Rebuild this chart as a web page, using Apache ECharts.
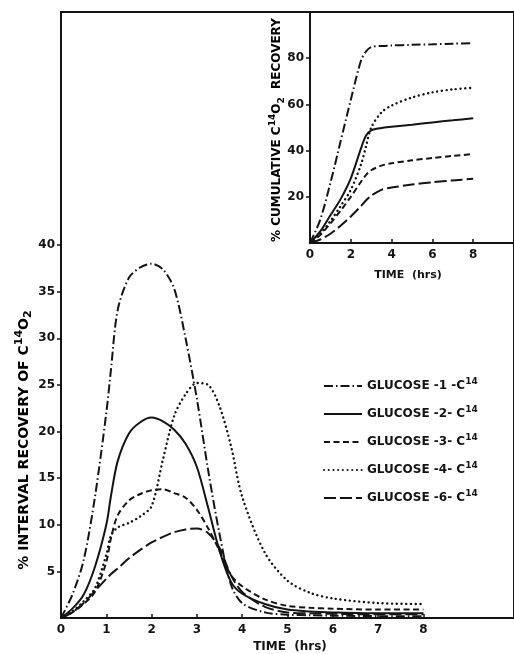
<!DOCTYPE html>
<html>
<head>
<meta charset="utf-8">
<script src="https://cdn.jsdelivr.net/npm/echarts@6/dist/echarts.min.js"></script>
<style>
  html, body { margin: 0; padding: 0; background: #fff; }
  #chart { width: 514px; height: 654px; }
</style>
</head>
<body>
<div id="chart"></div>
<script>
// series names (legend)
var names = ['GLUCOSE -1 -C14', 'GLUCOSE -2- C14', 'GLUCOSE -3- C14', 'GLUCOSE -4- C14', 'GLUCOSE -6- C14'];

// main chart: % interval recovery
var timeMain = [0, 0.25, 0.5, 0.75, 1, 1.1, 1.25, 1.5, 1.75, 2, 2.25, 2.5, 2.75, 3, 3.25, 3.5, 3.75, 4, 4.5, 5, 5.5, 6, 7, 8];
var interval1 = [0, 2.5, 6.2, 13, 22, 26.5, 33, 36.5, 37.6, 38, 37.4, 35.3, 30, 23.5, 15.8, 9, 3.6, 1.6, 0.6, 0.35, 0.3, 0.25, 0.2, 0.2];
var interval2 = [0, 1, 2.5, 5.5, 10, 13, 16.8, 19.8, 21, 21.5, 21.1, 20.2, 18.7, 16.2, 11.8, 7.2, 3.9, 2.6, 1.5, 0.9, 0.7, 0.6, 0.5, 0.5];
var interval3 = [0, 0.6, 1.5, 2.8, 6, 8.5, 11, 12.6, 13.3, 13.7, 13.8, 13.4, 12.9, 11.6, 9.6, 7.2, 4.6, 3.4, 2, 1.3, 1.1, 1, 0.9, 0.9];
var interval4 = [0, 0.7, 1.8, 3.2, 6.8, 8.8, 9.7, 10.2, 10.9, 12, 17, 21.7, 24, 25.2, 25, 22.7, 18.5, 13, 7, 4, 2.7, 2.1, 1.6, 1.5];
var interval6 = [0, 0.6, 1.6, 2.9, 4.2, 4.7, 5.3, 6.4, 7.3, 8.1, 8.7, 9.2, 9.5, 9.6, 9.1, 7.5, 4.6, 2.8, 1.2, 0.6, 0.5, 0.45, 0.4, 0.4];

// inset: % cumulative recovery
var timeInset = [0, 0.5, 1, 1.5, 2, 2.5, 2.75, 3, 3.5, 4, 5, 6, 7, 8];
var cumul1 = [0, 10, 26, 44, 62, 79, 83, 84.8, 85.3, 85.5, 85.8, 86, 86.3, 86.5];
var cumul2 = [0, 5, 12, 19, 28, 41, 46.5, 48.8, 49.8, 50.3, 51.2, 52.2, 53.1, 54];
var cumul3 = [0, 3.5, 8.5, 14, 20, 26.5, 29.5, 31.5, 33.5, 34.5, 35.8, 36.8, 37.7, 38.5];
var cumul4 = [0, 4, 9.5, 16, 23, 34, 42, 50, 56.5, 59.5, 63, 65.2, 66.5, 67.2];
var cumul6 = [0, 1.5, 4, 7.5, 11.5, 16, 18.5, 20.5, 23, 24, 25.3, 26.3, 27.1, 27.8];

// tick labels
var mainXLabels = [0, 1, 2, 3, 4, 5, 6, 7, 8];
var mainYLabels = [5, 10, 15, 20, 25, 30, 35, 40];
var insetXLabels = [0, 2, 4, 6, 8];
var insetYLabels = [20, 40, 60, 80];

var ink = '#141414';
var font = 'DejaVu Sans';
var dashes = [[9, 3, 1.5, 3], 'solid', [6, 3.5], [0.1, 4.6], [12, 4]];
var widths = [2, 2, 2, 2.4, 2];

function pairs(xs, ys) {
  return xs.map(function (x, i) { return [x, ys[i]]; });
}

function makeSeries(idx, xs, ys, i) {
  return {
    type: 'line',
    name: names[i],
    xAxisIndex: idx,
    yAxisIndex: idx,
    data: pairs(xs, ys),
    smooth: 0.3,
    symbol: 'none',
    lineStyle: { color: ink, width: widths[i], type: dashes[i], cap: i === 3 ? 'round' : 'butt' },
    itemStyle: { color: ink },
    z: 3
  };
}

var mainData = [interval1, interval2, interval3, interval4, interval6];
var insetData = [cumul1, cumul2, cumul3, cumul4, cumul6];
var series = [];
mainData.forEach(function (d, i) { series.push(makeSeries(0, timeMain, d, i)); });
insetData.forEach(function (d, i) { series.push(makeSeries(1, timeInset, d, i)); });

var labelStyle = { color: ink, fontFamily: font, fontWeight: 'bold', fontSize: 12 };
function richSet(size) {
  return {
    n: { fontFamily: font, fontWeight: 'bold', fontSize: size, color: ink, lineHeight: size + 6 },
    sup: { fontFamily: font, fontWeight: 'bold', fontSize: size - 3, color: ink, verticalAlign: 'top', lineHeight: size - 3 },
    sub: { fontFamily: font, fontWeight: 'bold', fontSize: size - 3, color: ink, verticalAlign: 'bottom', lineHeight: size - 3 }
  };
}

var chart = echarts.init(document.getElementById('chart'), null, { renderer: 'canvas' });
chart.setOption({
  animation: false,
  backgroundColor: '#fff',
  grid: [
    { left: 61, top: 12, width: 459, height: 606, show: true, borderColor: ink, borderWidth: 2, backgroundColor: 'transparent' },
    { left: 310, top: 12, width: 233, height: 231 }
  ],
  xAxis: [
    {
      gridIndex: 0, type: 'value', min: 0, max: 10, interval: 1,
      axisLine: { lineStyle: { color: ink, width: 2 } },
      axisTick: { inside: true, length: 4, lineStyle: { color: ink, width: 1.5 }, customValues: mainXLabels.slice(1) },
      axisLabel: Object.assign({ margin: 6, customValues: mainXLabels }, labelStyle),
      splitLine: { show: false }
    },
    {
      gridIndex: 1, type: 'value', min: 0, max: 10, interval: 2,
      axisLine: { lineStyle: { color: ink, width: 2 } },
      axisTick: { inside: true, length: 4, lineStyle: { color: ink, width: 1.5 }, customValues: insetXLabels.slice(1) },
      axisLabel: Object.assign({ margin: 6, customValues: insetXLabels }, labelStyle),
      splitLine: { show: false }
    }
  ],
  yAxis: [
    {
      gridIndex: 0, type: 'value', min: 0, max: 65, interval: 5,
      axisLine: { show: true, lineStyle: { color: ink, width: 2 } },
      axisTick: { show: true, length: 4, lineStyle: { color: ink, width: 1.5 }, customValues: mainYLabels },
      axisLabel: Object.assign({ margin: 6, customValues: mainYLabels }, labelStyle),
      splitLine: { show: false }
    },
    {
      gridIndex: 1, type: 'value', min: 0, max: 100, interval: 20,
      axisLine: { show: true, lineStyle: { color: ink, width: 2 } },
      axisTick: { show: true, length: 4, lineStyle: { color: ink, width: 1.5 }, customValues: insetYLabels },
      axisLabel: Object.assign({ margin: 6, customValues: insetYLabels }, labelStyle),
      splitLine: { show: false }
    }
  ],
  legend: {
    data: names,
    orient: 'vertical',
    left: 318,
    top: 372,
    itemWidth: 38,
    itemHeight: 10,
    itemGap: 13,
    selectedMode: false,
    itemStyle: { opacity: 0 },
    formatter: function (name) { return '{n|' + name.replace('C14', 'C') + '}{sup|14}'; },
    textStyle: { color: ink, rich: richSet(12) }
  },
  graphic: [
    {
      type: 'text', x: 24, y: 440, rotation: Math.PI / 2,
      style: {
        text: '{n|% INTERVAL RECOVERY OF C}{sup|14}{n|O}{sub|2}',
        rich: richSet(14), align: 'center', verticalAlign: 'middle'
      }
    },
    {
      type: 'text', x: 277, y: 130, rotation: Math.PI / 2,
      style: {
        text: '{n|% CUMULATIVE C}{sup|14}{n|O}{sub|2}{n|  RECOVERY}',
        rich: richSet(12), align: 'center', verticalAlign: 'middle'
      }
    },
    {
      type: 'text', x: 290, y: 647,
      style: { text: 'TIME  (hrs)', font: 'bold 12px "DejaVu Sans"', fill: ink, align: 'center', verticalAlign: 'middle' }
    },
    {
      type: 'text', x: 408, y: 275,
      style: { text: 'TIME  (hrs)', font: 'bold 11px "DejaVu Sans"', fill: ink, align: 'center', verticalAlign: 'middle' }
    }
  ],
  series: series
});
</script>
</body>
</html>
